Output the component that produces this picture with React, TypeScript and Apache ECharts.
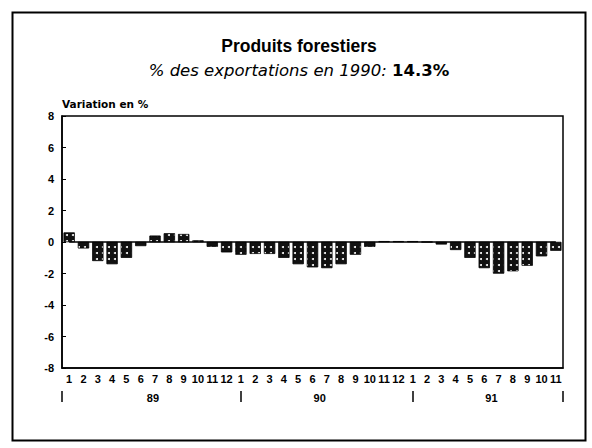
import React, { useEffect, useRef } from "react";
import * as echarts from "echarts";

const monthLabels: string[] = [
  "1","2","3","4","5","6","7","8","9","10","11","12",
  "1","2","3","4","5","6","7","8","9","10","11","12",
  "1","2","3","4","5","6","7","8","9","10","11",
];
const values89: number[] = [0.6, -0.4, -1.2, -1.4, -1.0, -0.25, 0.4, 0.55, 0.5, 0.1, -0.3, -0.65];
const values90: number[] = [-0.8, -0.75, -0.75, -1.0, -1.4, -1.6, -1.65, -1.4, -0.8, -0.3, 0.05, 0.05];
const values91: number[] = [0.05, 0, -0.15, -0.5, -1.0, -1.65, -2.0, -1.85, -1.5, -0.9, -0.55];
const yearLabels: string[] = ["89", "90", "91"];
const yearCenters: number[] = [6.35, 18, 30];
const yearBounds: number[] = [0, 12.5, 24.5, 35];

const FONT = "'Liberation Sans', Arial, sans-serif";
const WIDE = "'DejaVu Sans', sans-serif";

export default function App() {
  const ref = useRef<HTMLDivElement>(null);
  useEffect(() => {
    if (!ref.current) return;
    const chart = echarts.init(ref.current, undefined, { renderer: "svg" });
    const data = [...values89, ...values90, ...values91];
    chart.setOption({
      animation: false,
      backgroundColor: "#fff",
      textStyle: { fontFamily: FONT, color: "#000" },
      title: {
        text: "Produits forestiers",
        subtext: "{i|% des exportations en 1990:} {b|14.3%}",
        left: 294,
        textAlign: "center",
        top: 32,
        itemGap: 7,
        textStyle: { fontFamily: FONT, fontSize: 17.5, fontWeight: "bold", color: "#000" },
        subtextStyle: {
          fontFamily: WIDE,
          fontSize: 16.5,
          color: "#000",
          rich: {
            i: { fontFamily: WIDE, fontSize: 16.5, fontStyle: "italic", color: "#000" },
            b: { fontFamily: WIDE, fontSize: 16.5, fontWeight: "bold", color: "#000" },
          },
        },
      },
      graphic: [
        {
          type: "rect",
          left: 10,
          top: 10,
          shape: { width: 573, height: 428 },
          style: { fill: "none", stroke: "#000", lineWidth: 2 },
          silent: true,
        },
      ],
      grid: {
        left: 62,
        right: 29,
        top: 116,
        bottom: 80,
        show: true,
        borderColor: "#000",
        borderWidth: 1.5,
        backgroundColor: "transparent",
      },
      xAxis: [
        {
          type: "category",
          data: monthLabels,
          position: "bottom",
          axisLine: { onZero: false, lineStyle: { color: "#000", width: 1.5 } },
          axisTick: { alignWithLabel: true, length: 4, lineStyle: { color: "#000" } },
          axisLabel: {
            interval: 0,
            margin: 5,
            fontFamily: FONT,
            fontSize: 11,
            fontWeight: "bold",
            color: "#000",
          },
        },
        {
          type: "category",
          data: monthLabels,
          position: "bottom",
          axisLine: { show: false, onZero: false },
          axisTick: { inside: true, alignWithLabel: true, length: 3, lineStyle: { color: "#000" } },
          axisLabel: { show: false },
        },
        {
          type: "value",
          min: 0,
          max: 35,
          position: "bottom",
          offset: 23,
          axisLine: { show: false, onZero: false },
          splitLine: { show: false },
          axisTick: {
            show: true,
            length: 11,
            customValues: yearBounds,
            lineStyle: { color: "#000", width: 1.5 },
          },
          axisLabel: {
            show: true,
            margin: 1,
            customValues: yearCenters,
            formatter: (v: number) => yearLabels[yearCenters.indexOf(v)] ?? "",
            fontFamily: FONT,
            fontSize: 11,
            fontWeight: "bold",
            color: "#000",
          },
        },
      ],
      yAxis: {
        type: "value",
        min: -8,
        max: 8,
        interval: 2,
        name: "Variation en %",
        nameLocation: "end",
        nameGap: 7,
        nameTextStyle: { align: "left", fontFamily: WIDE, fontSize: 10.5, fontWeight: "bold", color: "#000" },
        axisLine: { show: true, lineStyle: { color: "#000", width: 1.5 } },
        axisTick: { show: true, inside: true, length: 4, lineStyle: { color: "#000" } },
        splitLine: { show: false },
        axisLabel: { margin: 8, fontFamily: FONT, fontSize: 11, fontWeight: "bold", color: "#000" },
      },
      series: [
        {
          type: "bar",
          data,
          barWidth: 11,
          itemStyle: {
            color: "#111",
            borderColor: "#000",
            borderWidth: 0.5,
            decal: {
              symbol: "circle",
              symbolSize: 1,
              color: "#fff",
              dashArrayX: [1.4, 3.6],
              dashArrayY: [1.4, 3.6],
              rotation: 0,
            },
          },
        },
        {
          type: "line",
          data: data.map(() => 0),
          symbol: "none",
          lineStyle: { color: "#000", width: 1.5 },
          silent: true,
        },
      ],
    });
    return () => chart.dispose();
  }, []);
  return (
    <div
      ref={ref}
      style={{ position: "fixed", left: 0, top: 0, width: 592, height: 448, background: "#fff" }}
    />
  );
}
